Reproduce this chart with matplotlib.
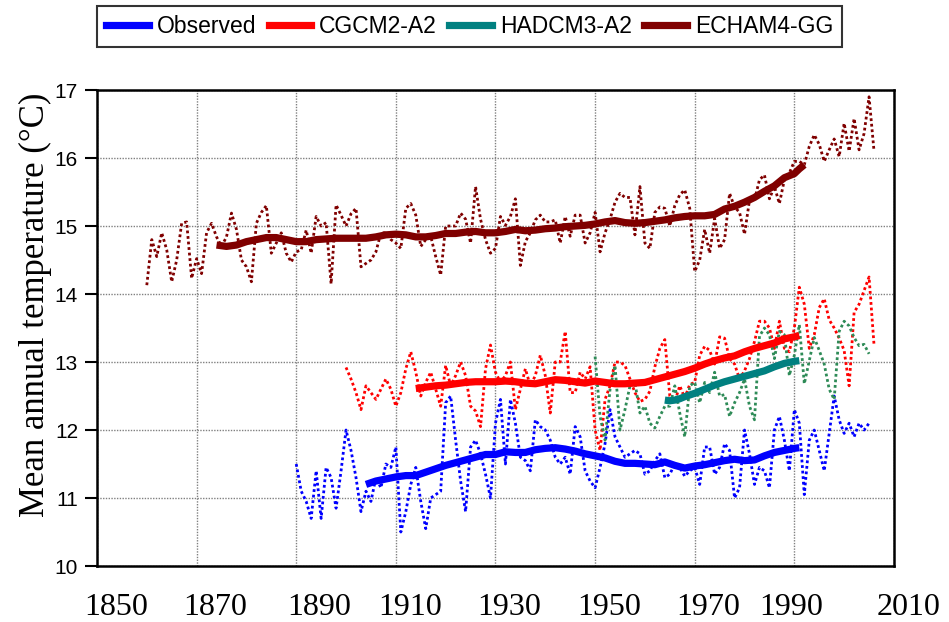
import numpy as np
from matplotlib import pyplot as plt
from matplotlib.lines import Line2D

# annual values (dotted) and smoothed values (thick)
obs_start = 1890
obs_annual = [11.50, 11.10, 10.95, 10.70, 11.40, 10.70, 11.45, 11.30, 10.85, 11.40,
              12.00, 11.70, 11.30, 10.80, 11.10, 10.95, 11.30, 11.15, 11.50, 11.45,
              11.75, 10.50, 10.80, 11.20, 11.45, 10.95, 10.55, 11.00, 11.05, 11.10,
              12.40, 12.50, 11.85, 11.25, 10.80, 11.75, 11.85, 11.65, 11.35, 11.00,
              12.10, 12.45, 11.50, 12.45, 12.10, 11.60, 11.55, 11.40, 12.15, 12.05,
              12.00, 11.85, 11.60, 11.50, 11.60, 11.35, 12.05, 11.90, 11.40, 11.25,
              11.15, 11.45, 11.80, 12.30, 11.90, 11.75, 11.60, 11.65, 11.70, 11.65,
              11.35, 11.40, 11.55, 11.65, 11.30, 11.35, 11.50, 11.45, 11.32, 11.40,
              11.45, 11.20, 11.75, 11.75, 11.35, 11.45, 11.80, 11.70, 11.00, 11.15,
              12.00, 11.65, 11.20, 11.45, 11.40, 11.15, 12.00, 12.20, 11.85, 11.40,
              12.30, 12.10, 11.05, 11.85, 12.00, 11.70, 11.40, 11.95, 12.50, 12.15,
              11.95, 12.10, 11.90, 12.10, 12.00, 12.10]
obs_smooth_years = [1904, 1906, 1908, 1910, 1912, 1914, 1916, 1918, 1920, 1922, 1924,
                    1926, 1928, 1930, 1932, 1934, 1936, 1938, 1940, 1942, 1944, 1946,
                    1948, 1950, 1952, 1954, 1956, 1958, 1960, 1962, 1964, 1966, 1968,
                    1970, 1972, 1974, 1976, 1978, 1980, 1982, 1984, 1986, 1988, 1990, 1991]
obs_smooth = [11.20, 11.25, 11.28, 11.31, 11.33, 11.33, 11.38, 11.43, 11.48, 11.52, 11.56,
              11.60, 11.64, 11.64, 11.68, 11.67, 11.67, 11.71, 11.73, 11.74, 11.72, 11.69,
              11.65, 11.62, 11.59, 11.54, 11.51, 11.51, 11.50, 11.49, 11.53, 11.48, 11.44,
              11.47, 11.49, 11.52, 11.55, 11.57, 11.55, 11.56, 11.62, 11.67, 11.70, 11.73, 11.74]

cgcm_start = 1900
cgcm_annual = [12.92, 12.75, 12.55, 12.30, 12.65, 12.55, 12.45, 12.60, 12.75, 12.60,
               12.35, 12.55, 12.90, 13.15, 12.85, 12.50, 12.70, 12.85, 12.60, 12.35,
               12.95, 12.65, 12.80, 13.00, 12.80, 12.35, 12.28, 12.05, 12.90, 13.25,
               12.85, 12.70, 12.80, 13.00, 12.30, 12.60, 12.90, 12.65, 12.80, 13.10,
               12.80, 12.25, 13.00, 13.00, 13.45, 12.55, 12.55, 12.85, 12.75, 12.93,
               12.00, 11.70, 12.45, 12.65, 13.00, 13.00, 12.95, 12.75, 12.55, 12.42,
               12.45, 12.57, 12.93, 13.20, 13.33, 12.50, 12.42, 12.65, 12.47, 12.67,
               12.70, 13.10, 13.23, 13.17, 12.97, 13.37, 13.35, 13.05, 12.97, 12.75,
               12.87, 13.05, 13.30, 13.60, 13.60, 13.50, 13.20, 13.60, 13.20, 13.15,
               13.50, 14.10, 13.85, 13.20, 13.40, 13.80, 13.93, 13.62, 13.50, 13.35,
               13.17, 12.65, 13.73, 13.85, 14.05, 14.25, 13.25]
cgcm_smooth_years = [1914, 1916, 1918, 1920, 1922, 1924, 1926, 1928, 1930, 1932, 1934,
                     1936, 1938, 1940, 1942, 1944, 1946, 1948, 1950, 1952, 1954, 1956,
                     1958, 1960, 1962, 1964, 1966, 1968, 1970, 1972, 1974, 1976, 1978,
                     1980, 1982, 1984, 1986, 1988, 1990, 1991]
cgcm_smooth = [12.61, 12.63, 12.65, 12.66, 12.68, 12.70, 12.71, 12.71, 12.71, 12.72, 12.71,
               12.69, 12.68, 12.71, 12.74, 12.73, 12.71, 12.69, 12.72, 12.70, 12.68, 12.68,
               12.69, 12.70, 12.74, 12.78, 12.82, 12.86, 12.91, 12.97, 13.02, 13.06, 13.09,
               13.15, 13.20, 13.24, 13.28, 13.34, 13.37, 13.39]

hadcm_start = 1950
hadcm_annual = [13.08, 12.20, 11.85, 12.60, 12.95, 12.00, 12.30, 12.65, 12.70, 12.25,
                12.35, 12.10, 12.03, 12.20, 12.35, 12.35, 12.65, 12.25, 11.90, 12.65,
                12.70, 12.40, 12.70, 12.55, 12.85, 12.50, 12.52, 12.20, 12.40, 12.55,
                12.75, 12.35, 12.15, 13.38, 13.50, 13.40, 13.05, 13.45, 13.40, 12.80,
                13.10, 13.55, 12.68, 13.02, 13.36, 13.17, 12.97, 12.60, 12.45, 13.45,
                13.60, 13.53, 13.36, 13.24, 13.26, 13.12]
hadcm_smooth_years = [1964, 1965, 1966, 1967, 1968, 1970, 1972, 1974, 1976, 1978, 1980,
                      1982, 1984, 1986, 1988, 1990, 1991]
hadcm_smooth = [12.44, 12.43, 12.44, 12.46, 12.49, 12.54, 12.60, 12.66, 12.71, 12.75, 12.79,
                12.83, 12.87, 12.93, 12.98, 13.01, 13.02]

echam_start = 1860
echam_annual = [14.13, 14.80, 14.55, 14.90, 14.65, 14.18, 14.50, 15.04, 15.06, 14.23,
                14.52, 14.30, 14.90, 15.04, 14.84, 14.70, 14.84, 15.19, 14.95, 14.50,
                14.40, 14.18, 15.04, 15.20, 15.30, 14.60, 14.75, 14.90, 14.60, 14.47,
                14.62, 14.65, 14.94, 14.60, 15.14, 15.00, 15.05, 14.15, 15.31, 15.16,
                15.00, 15.18, 15.26, 14.40, 14.45, 14.50, 14.62, 14.90, 14.90, 14.80,
                14.75, 14.67, 15.26, 15.33, 15.16, 14.70, 14.80, 14.85, 14.55, 14.28,
                15.00, 15.00, 15.00, 15.19, 15.10, 14.75, 15.58, 15.10, 14.80, 14.60,
                14.67, 15.14, 15.01, 15.14, 15.40, 14.42, 14.77, 14.90, 15.09, 15.16,
                15.06, 15.06, 15.09, 14.75, 15.14, 14.85, 15.16, 15.16, 14.75, 14.90,
                15.20, 14.62, 14.90, 15.10, 15.35, 15.48, 15.42, 15.42, 14.87, 15.58,
                14.75, 14.67, 15.20, 15.28, 15.26, 15.00, 15.30, 15.46, 15.53, 15.26,
                14.33, 14.50, 14.95, 14.60, 15.11, 14.67, 14.80, 15.48, 15.28, 15.20,
                14.88, 15.38, 15.38, 15.68, 15.75, 15.40, 15.58, 15.33, 15.68, 15.78,
                15.95, 15.95, 15.90, 16.17, 16.34, 16.20, 15.95, 16.12, 16.28, 16.02,
                16.51, 16.10, 16.58, 16.12, 16.36, 16.90, 16.10]
echam_smooth_years = [1874, 1876, 1878, 1880, 1882, 1884, 1886, 1888, 1890, 1892, 1894,
                      1896, 1898, 1900, 1902, 1904, 1906, 1908, 1910, 1912, 1914, 1916,
                      1918, 1920, 1922, 1924, 1926, 1928, 1930, 1932, 1934, 1936, 1938,
                      1940, 1942, 1944, 1946, 1948, 1950, 1952, 1954, 1956, 1958, 1960,
                      1962, 1964, 1966, 1968, 1970, 1972, 1974, 1976, 1978, 1980, 1982,
                      1984, 1986, 1988, 1990, 1991, 1992]
echam_smooth = [14.72, 14.70, 14.72, 14.77, 14.80, 14.83, 14.83, 14.80, 14.77, 14.77, 14.80,
                14.81, 14.82, 14.82, 14.82, 14.82, 14.84, 14.87, 14.88, 14.87, 14.84, 14.84,
                14.86, 14.89, 14.89, 14.91, 14.92, 14.90, 14.90, 14.92, 14.95, 14.93, 14.94,
                14.96, 14.97, 14.99, 15.00, 15.01, 15.03, 15.06, 15.08, 15.05, 15.04, 15.05,
                15.07, 15.09, 15.12, 15.14, 15.15, 15.15, 15.17, 15.25, 15.29, 15.35, 15.42,
                15.51, 15.59, 15.71, 15.77, 15.84, 15.90]

series_names = ['Observed', 'CGCM2-A2', 'HADCM3-A2', 'ECHAM4-GG']
grid_years = [1850, 1870, 1890, 1910, 1930, 1950, 1970, 1990, 2010]
temp_ticks = [10, 11, 12, 13, 14, 15, 16, 17]
year_labels = ['1850', '1870', '1890', '1910', '1930', '1950', '1970', '1990', '2010']
# the year labels sit slightly off the grid lines in the original
label_x = [1853.8, 1873.7, 1894.6, 1912.9, 1932.7, 1952.8, 1972.7, 1989.4, 2012.9]

SANS = ['Liberation Sans', 'DejaVu Sans']
SERIF = ['Liberation Serif', 'DejaVu Serif']


def plot_chart() -> None:
    plt.close('all')
    fig = plt.figure(figsize=(9.49, 6.22), dpi=100)
    ax = fig.add_axes([0.1022, 0.09, 0.8398, 0.7653])

    runs = [
        (obs_start, obs_annual, obs_smooth_years, obs_smooth, '#0000ff', '#0000ff'),
        (cgcm_start, cgcm_annual, cgcm_smooth_years, cgcm_smooth, '#ff0000', '#ff0000'),
        (hadcm_start, hadcm_annual, hadcm_smooth_years, hadcm_smooth, '#2e8b57', '#008080'),
        (echam_start, echam_annual, echam_smooth_years, echam_smooth, '#800000', '#800000'),
    ]

    for start, annual, _, _, dot_color, _ in runs:
        years = np.arange(start, start + len(annual))
        ax.plot(years, annual, color=dot_color, lw=2.0, ls=(0, (1, 1)), zorder=2)

    for _, _, s_years, smooth, _, line_color in runs:
        ax.plot(s_years, smooth, color=line_color, lw=5.2, solid_capstyle='butt', zorder=3)

    ax.set_xlim(1850, 2010)
    ax.set_ylim(10, 17)
    ax.set_xticks(grid_years)
    ax.tick_params(axis='x', length=0, labelbottom=False)
    ax.set_yticks(temp_ticks, [str(t) for t in temp_ticks], family=SANS, fontsize=15)
    ax.tick_params(axis='y', direction='out', length=8.6, width=1.5, pad=5)

    ax.grid(True, color='#808080', lw=1.0, ls=(0, (1, 1)))
    ax.set_axisbelow(True)
    for spine in ax.spines.values():
        spine.set_linewidth(1.8)
        spine.set_color('black')

    for x, txt in zip(label_x, year_labels):
        ax.text(x, -0.088, txt, transform=ax.get_xaxis_transform(), ha='center', va='center',
                family=SERIF, fontsize=23, clip_on=False)

    fig.text(0.037, 0.51, 'Mean annual temperature (°C)', rotation=90, ha='center', va='center',
             family=SERIF, fontsize=25)

    handles = [Line2D([], [], color=r[5], lw=5.2) for r in runs]
    leg = fig.legend(handles, series_names, loc='upper left', bbox_to_anchor=(97 / 949, 1 - 6 / 622),
                     borderaxespad=0, ncol=4, frameon=True, fancybox=False, edgecolor='black',
                     handlelength=1.85, handletextpad=0.35, columnspacing=0.55, borderpad=0.4,
                     prop={'family': SANS, 'size': 16.5})
    leg.get_frame().set_linewidth(1.5)

    plt.savefig('out.png', dpi=100)


def main() -> None:
    plot_chart()


if __name__ == '__main__':
    main()
